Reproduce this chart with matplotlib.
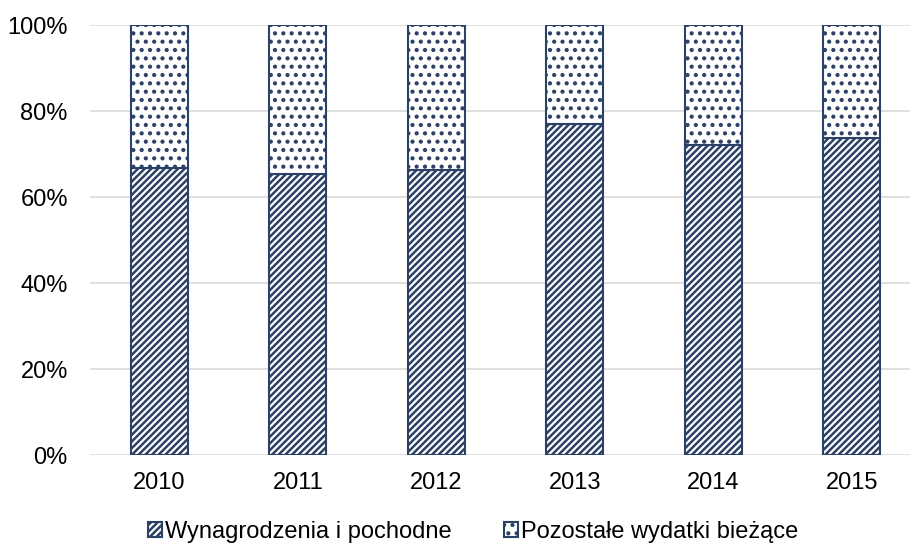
import matplotlib
matplotlib.use("Agg")
import matplotlib.pyplot as plt
from matplotlib.ticker import PercentFormatter
import numpy as np

plt.rcParams["font.family"] = ["Liberation Sans", "DejaVu Sans"]
plt.rcParams["hatch.linewidth"] = 1.8

years = ["2010", "2011", "2012", "2013", "2014", "2015"]
wages = [66.7, 65.3, 66.3, 77.0, 72.2, 73.7]          # Wynagrodzenia i pochodne
other = [100 - w for w in wages]                       # Pozostałe wydatki bieżące
yticks = [0, 20, 40, 60, 80, 100]

NAVY = "#2B4166"
GRID = "#D9D9D9"
FS = 17

fig = plt.figure(figsize=(9.1, 5.45), dpi=100)
ax = fig.add_axes([90 / 910, 90 / 545, 831 / 910, 430 / 545])

x = np.arange(len(years))
w = 0.41
b1 = ax.bar(x, wages, w, color="white", edgecolor=NAVY, hatch="/////",
            linewidth=1.5, label="Wynagrodzenia i pochodne", zorder=3)
b2 = ax.bar(x, other, w, bottom=wages, color="white", edgecolor=NAVY,
            hatch="..", linewidth=1.5, label="Pozostałe wydatki bieżące",
            zorder=3)

ax.set_xlim(-0.5, len(years) - 0.5)
ax.set_ylim(0, 100)
ax.set_yticks(yticks)
ax.yaxis.set_major_formatter(PercentFormatter(decimals=0))
ax.set_xticks(x)
ax.set_xticklabels(years)
ax.tick_params(axis="both", length=0, labelsize=FS, colors="black")
ax.tick_params(axis="y", pad=16)
ax.tick_params(axis="x", pad=12)
ax.grid(axis="y", color=GRID, linewidth=1.2, zorder=0)
for s in ax.spines.values():
    s.set_visible(False)

fig.legend(handles=[b1, b2], loc="center", bbox_to_anchor=(473 / 910, 1 - 532 / 545),
           ncol=2, frameon=False, fontsize=FS, handlelength=0.6,
           handleheight=0.6, handletextpad=0.12, columnspacing=2.25,
           borderpad=0)

fig.savefig("out.png", dpi=100)
